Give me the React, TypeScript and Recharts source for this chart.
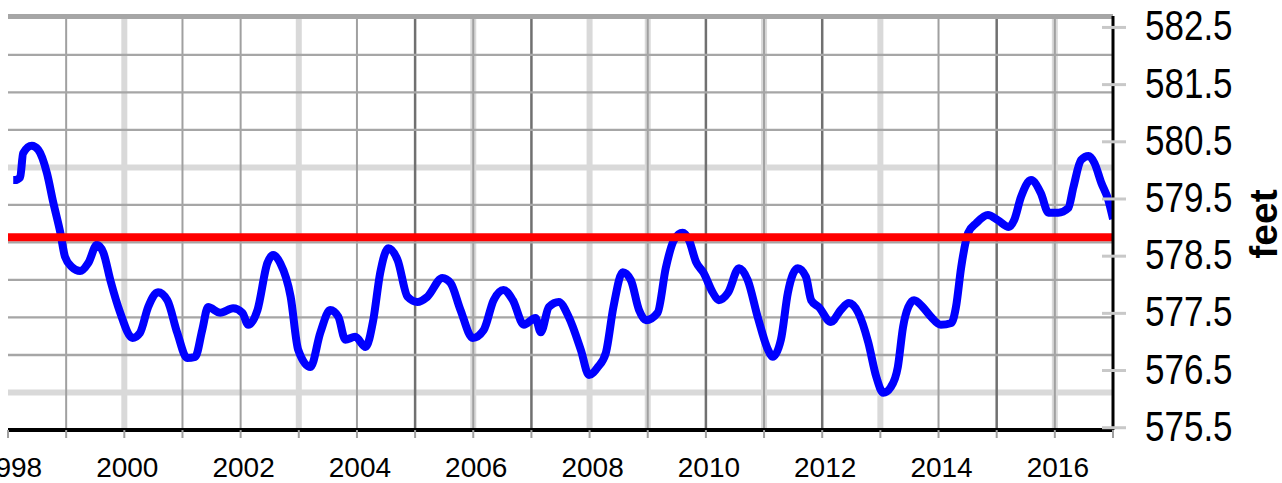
import { LineChart, Line, XAxis, YAxis, CartesianGrid, ReferenceLine } from "recharts";

// water level (decimal year, feet)
const YEARS = [
  1998.09, 1998.12, 1998.21, 1998.26, 1998.41, 1998.52, 1998.67, 1998.78, 1998.9, 1998.98,
  1999.1, 1999.24, 1999.38, 1999.53, 1999.64, 1999.76, 1999.93, 2000.14, 2000.27, 2000.41,
  2000.58, 2000.74, 2000.91, 2001.08, 2001.22, 2001.34, 2001.44, 2001.65, 2001.87, 2002.03,
  2002.13, 2002.29, 2002.46, 2002.56, 2002.68, 2002.86, 2002.99, 2003.2, 2003.37, 2003.54,
  2003.68, 2003.8, 2003.97, 2004.15, 2004.28, 2004.4, 2004.54, 2004.7, 2004.87, 2005.04,
  2005.21, 2005.47, 2005.61, 2005.78, 2005.99, 2006.18, 2006.35, 2006.52, 2006.68, 2006.87,
  2007.07, 2007.16, 2007.3, 2007.47, 2007.64, 2007.85, 2007.99, 2008.14, 2008.28, 2008.41,
  2008.57, 2008.71, 2008.85, 2008.97, 2009.17, 2009.31, 2009.45, 2009.6, 2009.71, 2009.83,
  2009.96, 2010.12, 2010.22, 2010.38, 2010.57, 2010.72, 2010.89, 2011.07, 2011.15, 2011.29,
  2011.41, 2011.58, 2011.72, 2011.81, 2011.94, 2012.15, 2012.32, 2012.46, 2012.62, 2012.79,
  2012.93, 2013.05, 2013.18, 2013.3, 2013.39, 2013.48, 2013.58, 2013.73, 2013.87, 2014.04,
  2014.22, 2014.3, 2014.39, 2014.51, 2014.65, 2014.85, 2015.02, 2015.21, 2015.3, 2015.42,
  2015.59, 2015.76, 2015.89, 2016.06, 2016.23, 2016.32, 2016.45, 2016.58, 2016.68, 2016.8,
  2016.92, 2017.0,
];
const LEVEL_FT = [
  579.83, 579.83, 579.88, 580.3, 580.43, 580.36, 579.95, 579.43, 578.91, 578.49,
  578.31, 578.24, 578.38, 578.7, 578.56, 578.08, 577.51, 577.07, 577.16, 577.61,
  577.87, 577.73, 577.16, 576.72, 576.74, 577.21, 577.61, 577.51, 577.59, 577.51,
  577.3, 577.56, 578.38, 578.52, 578.38, 577.79, 576.86, 576.56, 577.16, 577.56,
  577.44, 577.04, 577.09, 576.91, 577.38, 578.21, 578.64, 578.43, 577.79, 577.7,
  577.79, 578.12, 578.03, 577.56, 577.07, 577.21, 577.73, 577.91, 577.73, 577.3,
  577.42, 577.17, 577.61, 577.7, 577.44, 576.86, 576.42, 576.56, 576.81, 577.61,
  578.22, 578.08, 577.56, 577.38, 577.51, 578.29, 578.78, 578.91, 578.78, 578.4,
  578.21, 577.86, 577.73, 577.86, 578.29, 578.08, 577.44, 576.86, 576.74, 577.04,
  577.86, 578.29, 578.14, 577.73, 577.61, 577.35, 577.56, 577.68, 577.51, 577.0,
  576.39, 576.11, 576.21, 576.56, 577.26, 577.61, 577.73, 577.61, 577.44, 577.3,
  577.33, 577.61, 578.31, 578.91, 579.08, 579.22, 579.13, 579.01, 579.13, 579.54,
  579.83, 579.6, 579.26, 579.26, 579.34, 579.71, 580.18, 580.25, 580.13, 579.78,
  579.48, 579.15,
];
const AVERAGE_FT = 578.83;

const X_TICKS = [
  1998, 1999, 2000, 2001, 2002, 2003, 2004, 2005, 2006, 2007,
  2008, 2009, 2010, 2011, 2012, 2013, 2014, 2015, 2016, 2017,
];
const Y_TICKS = [575.5, 576.5, 577.5, 578.5, 579.5, 580.5, 581.5, 582.5];

const data = YEARS.map((year, i) => ({ year, level: LEVEL_FT[i] }));

// the grid is in metres (every 0.2 m), the labels in feet
const M_TO_FT = 3.28084;
const toFt = (m: number[]) => m.map((v) => v * M_TO_FT);
const H_GRAY = toFt([175.4, 175.8, 176.0, 176.2, 176.4, 176.6, 177.0, 177.2, 177.4]);
const H_LIGHT = toFt([175.6, 176.8]);
const H_TOP = [582.69];
const V_LIGHT = [2000, 2003, 2006, 2008, 2009, 2011, 2013, 2016];
const V_GRAY = [1999, 2001, 2002, 2004, 2006, 2009, 2011, 2014, 2016];
const V_DARK = [2005, 2007, 2010, 2012, 2015];

const FONT = "'Liberation Sans', Arial, sans-serif";

function XTick({ x, y, payload }: any) {
  if (payload.value % 2 !== 0 || payload.value > 2016) return null;
  return (
    <text x={x + 3} y={y + 39} textAnchor="middle" fontSize={28} fontFamily={FONT} fill="#000">
      {payload.value}
    </text>
  );
}

function YTick({ x, y, payload }: any) {
  return (
    <g>
      <line x1={x - 11} x2={x + 13} y1={y} y2={y} stroke="#c8c8c8" strokeWidth={3} />
      <g transform={`translate(${x + 32},${y + 13}) scale(1,1.23)`}>
        <text x={0} y={0} fontSize={35} fontFamily={FONT} fill="#000">
          {payload.value.toFixed(1)}
        </text>
      </g>
    </g>
  );
}

function FeetLabel() {
  return (
    <text
      transform="translate(1277,224) rotate(-90)"
      textAnchor="middle"
      fontSize={39}
      fontWeight="bold"
      fontFamily={FONT}
      fill="#000"
    >
      feet
    </text>
  );
}

export default function App() {
  return (
    <div style={{ position: "absolute", left: 0, top: 0, width: 1282, height: 483, background: "#fff" }}>
      <LineChart width={1282} height={483} data={data} margin={{ top: 16, right: 0, bottom: 0, left: 8 }}>
        <CartesianGrid horizontal={false} verticalValues={V_LIGHT} stroke="#d9d9d9" strokeWidth={6} />
        <CartesianGrid vertical={false} horizontalValues={H_LIGHT} stroke="#d9d9d9" strokeWidth={6} />
        <CartesianGrid horizontal={false} verticalValues={V_GRAY} stroke="#a0a0a0" strokeWidth={2} />
        <CartesianGrid horizontal={false} verticalValues={V_DARK} stroke="#707070" strokeWidth={2.5} />
        <CartesianGrid vertical={false} horizontalValues={H_GRAY} stroke="#a6a6a6" strokeWidth={2.3} />
        <CartesianGrid vertical={false} horizontalValues={H_TOP} stroke="#a6a6a6" strokeWidth={5} />
        <XAxis
          dataKey="year"
          type="number"
          domain={[1998, 2017]}
          ticks={X_TICKS}
          interval={0}
          allowDataOverflow
          height={53}
          axisLine={{ stroke: "#000", strokeWidth: 4 }}
          tickLine={{ stroke: "#a0a0a0", strokeWidth: 2 }}
          tickSize={8}
          tickMargin={0}
          tick={(p: any) => <XTick {...p} />}
        />
        <YAxis
          orientation="right"
          type="number"
          domain={[575.46, 582.7]}
          ticks={Y_TICKS}
          interval={0}
          allowDataOverflow
          width={169}
          axisLine={{ stroke: "#000", strokeWidth: 3 }}
          tickLine={false}
          tickSize={0}
          tickMargin={0}
          tick={(p: any) => <YTick {...p} />}
          label={() => <FeetLabel />}
        />
        <Line
          type="monotone"
          dataKey="level"
          stroke="#0000ff"
          strokeWidth={8}
          dot={false}
          isAnimationActive={false}
        />
        <ReferenceLine y={AVERAGE_FT} stroke="#ff0000" strokeWidth={8} />
      </LineChart>
    </div>
  );
}
